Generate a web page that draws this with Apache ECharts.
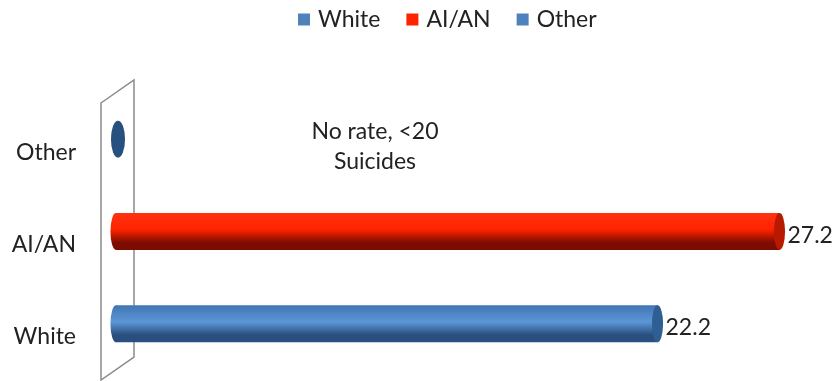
<!DOCTYPE html>
<html><head><meta charset="utf-8">
<script src="https://cdn.jsdelivr.net/npm/echarts@6/dist/echarts.min.js"></script>
<style>html,body{margin:0;padding:0;background:#fff}#c{width:840px;height:381px}</style>
</head><body><div id="c"></div>
<script>
const categories = ['White', 'AI/AN', 'Other'];
const seriesNames = ['White', 'AI/AN', 'Other'];
const whiteValues = [22.2, null, null];
const aianValues = [null, 27.2, null];
const otherValues = [null, null, null];
const capValues = [22.2, 27.2, 0];
const noteText = 'No rate, <20\nSuicides';

const FONT = 'Lato';
const FS = 23;
const palette = {
  blue: { top: '#4375b4', mid: '#5b96d6', bot: '#2a4f7e', cap: '#2f5e92', legend: '#4f81bd' },
  red:  { top: '#ff3311', mid: '#ff2200', bot: '#7c0c00', cap: '#b81a00', legend: '#ff2200' }
};
const capColorByCat = [palette.blue.cap, palette.red.cap, '#28507e'];
const bodyByCat = [palette.blue, palette.red, palette.blue];

function grad(p) {
  return new echarts.graphic.LinearGradient(0, 0, 0, 1, [
    { offset: 0, color: p.top },
    { offset: 0.45, color: p.mid },
    { offset: 0.8, color: p.bot },
    { offset: 1, color: p.bot }
  ]);
}

const chart = echarts.init(document.getElementById('c'));
const BAR_W = 37;

function barSeries(name, data, p) {
  return {
    name, type: 'bar', stack: 'all', data, barWidth: BAR_W, z: 3,
    itemStyle: { color: grad(p) },
    label: { show: true, position: 'right', distance: 8, offset: [0, 4], color: '#222', fontFamily: FONT, fontSize: FS,
      formatter: (d) => d.value == null ? '' : d.value.toFixed(1) }
  };
}

chart.setOption({
  animation: false,
  legend: {
    left: 293, top: 3, itemWidth: 12, itemHeight: 12, itemGap: 26,
    textStyle: { fontFamily: FONT, fontSize: FS, color: '#222', padding: [0, 0, 0, 3] },
    data: [
      { name: 'White', icon: 'rect', itemStyle: { color: palette.blue.legend } },
      { name: 'AI/AN', icon: 'rect', itemStyle: { color: palette.red.legend } },
      { name: 'Other', icon: 'rect', itemStyle: { color: palette.blue.legend } }
    ]
  },
  grid: { left: 116, right: 41, top: 93, bottom: 11 },
  xAxis: { type: 'value', min: 0, max: 28, show: false, splitLine: { show: false } },
  yAxis: {
    type: 'category', data: categories,
    axisLine: { show: false }, axisTick: { show: false },
    axisLabel: { margin: 40, color: '#222', fontFamily: FONT, fontSize: FS, verticalAlign: 'top', lineHeight: 26 }
  },
  graphic: [
    { type: 'polygon', z: 0, silent: true,
      shape: { points: [[101, 103], [134, 80], [134, 357], [101, 380]] },
      style: { fill: 'rgba(0,0,0,0)', stroke: '#8a8a8a', lineWidth: 1.5 } },
    { type: 'text', z: 5, x: 375, y: 147, silent: true,
      style: { text: noteText, fontFamily: FONT, fontSize: FS, fill: '#222', align: 'center', verticalAlign: 'middle', lineHeight: 30 } }
  ],
  series: [
    { type: 'custom', z: 2, silent: true, data: capValues.map((v, i) => [v, i]),
      renderItem: (params, api) => {
        const i = api.value(1);
        if (api.value(0) <= 0) return null;
        const p = api.coord([0, i]);
        return { type: 'circle', x: p[0], y: p[1], scaleX: 0.3,
          shape: { cx: 0, cy: 0, r: BAR_W / 2 },
          style: { fill: grad(bodyByCat[i]) } };
      } },
    barSeries(seriesNames[0], whiteValues, palette.blue),
    barSeries(seriesNames[1], aianValues, palette.red),
    barSeries(seriesNames[2], otherValues, palette.blue),
    { type: 'custom', z: 4, silent: true, data: capValues.map((v, i) => [v, i]),
      renderItem: (params, api) => {
        const i = api.value(1);
        const p = api.coord([api.value(0), i]);
        const zero = api.value(0) <= 0;
        return { type: 'circle', x: p[0] + (zero ? 2 : 0), y: p[1], scaleX: zero ? 0.38 : 0.3,
          shape: { cx: 0, cy: 0, r: BAR_W / 2 },
          style: { fill: capColorByCat[i] } };
      } }
  ]
});
</script></body></html>
